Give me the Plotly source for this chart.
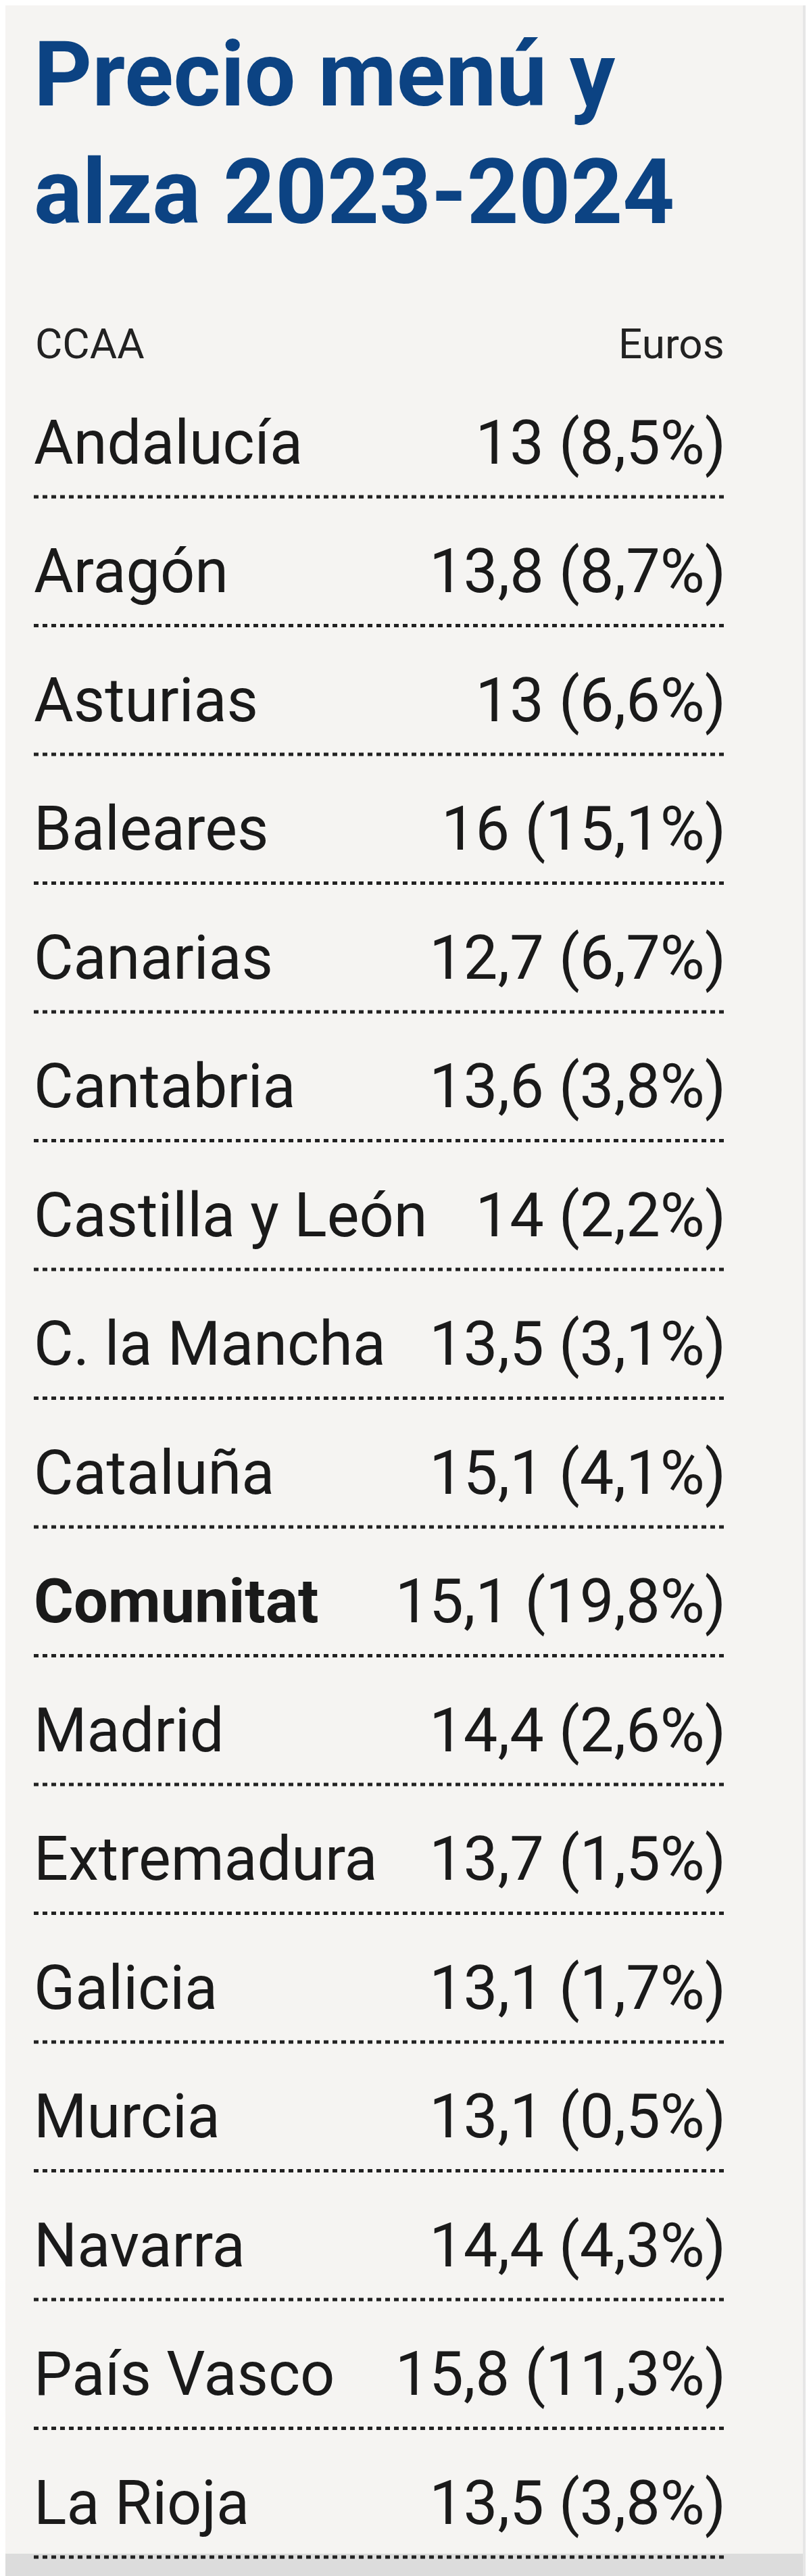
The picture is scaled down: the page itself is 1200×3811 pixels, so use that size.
import plotly.graph_objects as go

regions = ["Andalucía", "Aragón", "Asturias", "Baleares", "Canarias", "Cantabria",
           "Castilla y León", "C. la Mancha", "Cataluña", "Comunitat", "Madrid",
           "Extremadura", "Galicia", "Murcia", "Navarra", "País Vasco", "La Rioja"]
prices = ["13", "13,8", "13", "16", "12,7", "13,6", "14", "13,5", "15,1", "15,1",
          "14,4", "13,7", "13,1", "13,1", "14,4", "15,8", "13,5"]
rises = ["8,5%", "8,7%", "6,6%", "15,1%", "6,7%", "3,8%", "2,2%", "3,1%", "4,1%",
         "19,8%", "2,6%", "1,5%", "1,7%", "0,5%", "4,3%", "11,3%", "3,8%"]
bold_rows = ["Comunitat"]

W, H = 1200, 3811
FONT = "Liberation Sans Narrow, Roboto, sans-serif"
y0, step = 655, 190.5
ys = [y0 + i * step for i in range(len(regions))]

fig = go.Figure()
names = [f"<b>{r}</b>" if r in bold_rows else r for r in regions]
fig.add_trace(go.Scatter(x=[42] * len(regions), y=ys, mode="text", text=names,
                         textposition="middle right",
                         textfont=dict(family=FONT, size=90, color="#1a1a1a"),
                         hoverinfo="skip"))
vals = [f"{p} ({r})" for p, r in zip(prices, rises)]
fig.add_trace(go.Scatter(x=[1066] * len(regions), y=ys, mode="text", text=vals,
                         textposition="middle left",
                         textfont=dict(family=FONT, size=90, color="#1a1a1a"),
                         hoverinfo="skip"))
for y in ys:
    fig.add_shape(type="line", x0=42, x1=1066, y0=y + 72, y1=y + 72,
                  line=dict(color="#222", width=5, dash="7px,6px"))

fig.add_annotation(x=40, y=22, xanchor="left", yanchor="top", align="left",
                   text="<b>Precio menú y<br>alza 2023-2024</b>", showarrow=False,
                   font=dict(family=FONT, size=134, color="#0c4383"))
fig.add_annotation(x=42, y=500, xanchor="left", yanchor="middle", text="CCAA",
                   showarrow=False, font=dict(family=FONT, size=62, color="#222"))
fig.add_annotation(x=1066, y=500, xanchor="right", yanchor="middle", text="Euros",
                   showarrow=False, font=dict(family=FONT, size=62, color="#222"))
fig.add_shape(type="rect", x0=0, x1=W, y0=3770, y1=H, fillcolor="#dcdcdc",
              line=dict(width=0), layer="below")
fig.add_shape(type="rect", x0=1180, x1=W, y0=0, y1=H, fillcolor="#e6e6e6",
              line=dict(width=0), layer="below")

fig.update_layout(width=W, height=H, margin=dict(l=0, r=0, t=0, b=0),
                  paper_bgcolor="#f5f4f2", plot_bgcolor="#f5f4f2", showlegend=False,
                  xaxis=dict(range=[0, W], visible=False, fixedrange=True),
                  yaxis=dict(range=[H, 0], visible=False, fixedrange=True))
fig.write_html("out.html")
